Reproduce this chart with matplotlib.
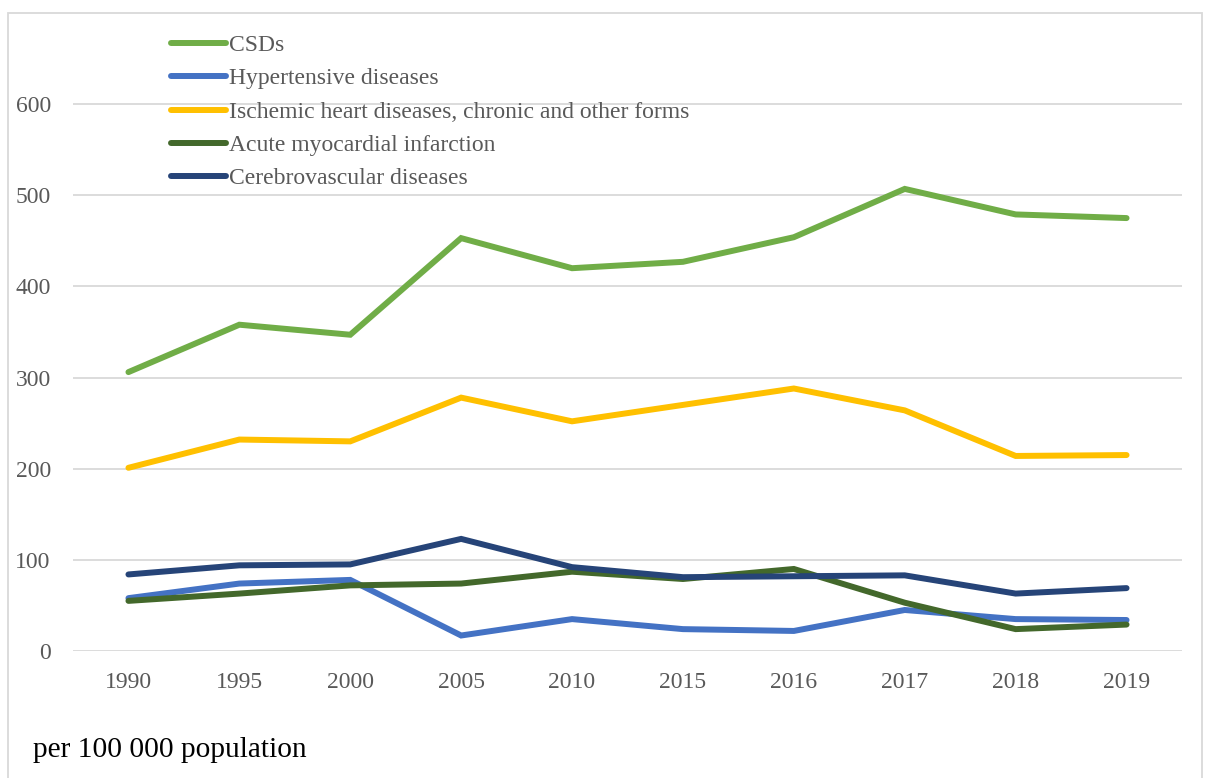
import matplotlib.pyplot as plt
from matplotlib.patches import Rectangle

years = ["1990", "1995", "2000", "2005", "2010", "2015", "2016", "2017", "2018", "2019"]

csds = [306, 358, 347, 453, 420, 427, 454, 507, 479, 475]
hypertensive = [58, 74, 78, 17, 35, 24, 22, 45, 35, 34]
ischemic = [201, 232, 230, 278, 252, 270, 288, 264, 214, 215]
acute_mi = [55, 63, 72, 74, 87, 79, 90, 53, 24, 29]
cerebrovascular = [84, 94, 95, 123, 92, 81, 82, 83, 63, 69]

series_names = [
    "CSDs",
    "Hypertensive diseases",
    "Ischemic heart diseases, chronic and other forms",
    "Acute myocardial infarction",
    "Cerebrovascular diseases",
]
series_values = [csds, hypertensive, ischemic, acute_mi, cerebrovascular]
colors = ["#70AD47", "#4472C4", "#FFC000", "#43682B", "#264478"]

plt.rcParams["font.family"] = ["Liberation Serif", "DejaVu Serif"]

W, H = 1206, 778
fig = plt.figure(figsize=(W / 100, H / 100), dpi=100)
ax = fig.add_axes([73 / W, 1 - 651 / H, (1182 - 73) / W, (651 - 13) / H])

x = list(range(len(years)))
for name, vals, c in zip(series_names, series_values, colors):
    ax.plot(x, vals, color=c, lw=4.3, label=name, solid_capstyle="round",
            solid_joinstyle="miter")

ax.set_xlim(-0.5, len(years) - 0.5)
ax.set_ylim(0, 700)
ax.set_yticks([0, 100, 200, 300, 400, 500, 600])
ax.set_xticks(x)
ax.set_xticklabels(years)
ax.grid(axis="y", color="#D9D9D9", lw=1.3)
ax.set_axisbelow(True)
for s in ax.spines.values():
    s.set_visible(False)
ax.tick_params(length=0, labelsize=17, labelcolor="#595959")
ax.tick_params(axis="x", pad=15)
ax.tick_params(axis="y", pad=16)

leg = ax.legend(loc="upper left", bbox_to_anchor=(81 / (1182 - 73), 0.992),
                frameon=False, fontsize=17, handlelength=2.35, handletextpad=0.12,
                labelspacing=0.5, borderaxespad=0.3)
for t in leg.get_texts():
    t.set_color("#595959")

fig.text(33 / W, 1 - 750 / H, "per 100 000 population", fontsize=21.2,
         color="black", va="center", ha="left")

# thin frame around the whole chart
fig.patches.append(Rectangle((8 / W, -0.05), (1202 - 8) / W, 1.05 - 13 / H,
                             transform=fig.transFigure, fill=False,
                             edgecolor="#D9D9D9", lw=1.3))

fig.savefig("out.png", dpi=100)
